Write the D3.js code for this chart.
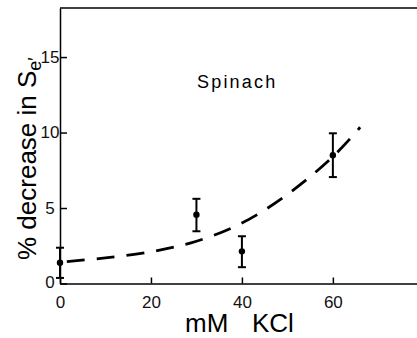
<!DOCTYPE html>
<html>
<head>
<meta charset="utf-8">
<script src="https://cdn.jsdelivr.net/npm/d3@7"></script>
<style>
  body { margin: 0; background: #fff; }
  svg { display: block; font-family: "Liberation Sans", Arial, sans-serif; }
</style>
</head>
<body>
<div id="chart"></div>
<script>
// chart size
const svgWidth = 417;
const svgHeight = 338;

// data
const kcl = [0, 30, 40, 60];
const decrease = [1.37, 4.56, 2.13, 8.5];
const errUp = [1.0, 1.05, 1.0, 1.45];
const errDown = [1.0, 1.1, 1.05, 1.45];

// dashed fit curve
const fitX = [1.5, 10, 20, 30, 40, 50, 60, 66];
const fitY = [1.45, 1.7, 2.1, 2.8, 4.0, 5.9, 8.4, 10.35];

const xTicks = [0, 20, 40, 60];
const yTicks = [0, 5, 10, 15];

const svg = d3.select('#chart')
  .append('svg')
  .attr('width', svgWidth)
  .attr('height', svgHeight);

const xScale = d3.scaleLinear().domain([0, 78.5]).range([60, 417]);
const yScale = d3.scaleLinear().domain([0, 18.25]).range([283.5, 8]);

// axes
const xAxis = d3.axisBottom(xScale).tickValues(xTicks).tickSizeInner(-6).tickSizeOuter(0).tickPadding(12);
const gx = svg.append('g')
  .attr('transform', 'translate(0,' + yScale(0) + ')')
  .call(xAxis);
gx.select('.domain').attr('stroke-width', 1.5);
gx.selectAll('.tick line').attr('stroke-width', 1.5);
gx.selectAll('.tick text').attr('font-size', 17).attr('fill', '#111');

const yAxis = d3.axisLeft(yScale).tickValues(yTicks).tickSizeInner(-7).tickSizeOuter(0).tickPadding(10);
const gy = svg.append('g')
  .attr('transform', 'translate(' + xScale(0) + ',0)')
  .call(yAxis);
gy.select('.domain').attr('stroke-width', 1.5);
gy.selectAll('.tick line').attr('stroke-width', 1.5);
gy.selectAll('.tick text')
  .attr('font-size', 17).attr('fill', '#111')
  .attr('text-anchor', 'middle').attr('x', -10);
gy.selectAll('.tick').filter(d => d === 0).select('text').attr('y', -1);

// top frame line
svg.append('line')
  .attr('x1', xScale(0)).attr('x2', xScale(78.5))
  .attr('y1', yScale(18.25)).attr('y2', yScale(18.25))
  .attr('stroke', '#000').attr('stroke-width', 1.5);

// dashed curve
const fit = fitX.map((d, i) => [d, fitY[i]]);
svg.append('path')
  .datum(fit)
  .attr('fill', 'none')
  .attr('stroke', '#000')
  .attr('stroke-width', 2.8)
  .attr('stroke-dasharray', '18,12')
  .attr('d', d3.line().x(d => xScale(d[0])).y(d => yScale(d[1])).curve(d3.curveCatmullRom));

// error bars + points
const pts = kcl.map((d, i) => ({x: d, y: decrease[i], hi: decrease[i] + errUp[i], lo: decrease[i] - errDown[i]}));
const g = svg.append('g').selectAll('g').data(pts).enter().append('g');
g.append('line')
  .attr('x1', d => xScale(d.x)).attr('x2', d => xScale(d.x))
  .attr('y1', d => yScale(d.hi)).attr('y2', d => yScale(d.lo))
  .attr('stroke', '#000').attr('stroke-width', 2);
['hi', 'lo'].forEach(k => {
  g.append('line')
    .attr('x1', d => xScale(d.x) - 4).attr('x2', d => xScale(d.x) + 4)
    .attr('y1', d => yScale(d[k])).attr('y2', d => yScale(d[k]))
    .attr('stroke', '#000').attr('stroke-width', 2);
});
g.append('circle')
  .attr('cx', d => xScale(d.x)).attr('cy', d => yScale(d.y))
  .attr('r', 3.2).attr('fill', '#000');

// labels
svg.append('text')
  .attr('x', 197).attr('y', 88)
  .attr('font-size', 18)
  .attr('letter-spacing', 2.2)
  .text('Spinach');

const xl = svg.append('text')
  .attr('y', 332)
  .attr('font-size', 26);
xl.append('tspan').attr('x', 185).text('mM');
xl.append('tspan').attr('x', 252).text('KCl');

const yl = svg.append('text')
  .attr('transform', 'translate(36,260) rotate(-90)')
  .attr('font-size', 26);
yl.append('tspan').text('% decrease in S');
yl.append('tspan').attr('font-size', 18).attr('dy', 5).text('e\u2032');
</script>
</body>
</html>
